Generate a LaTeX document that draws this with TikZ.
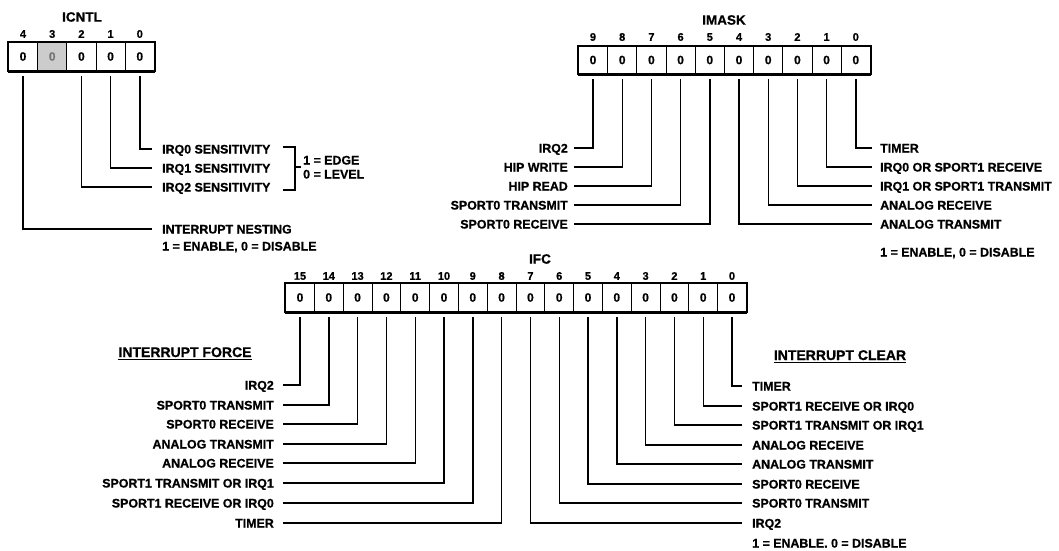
\documentclass[tikz,border=0pt]{standalone}
\usepackage{fontspec}
\setmainfont[BoldFeatures={FakeBold=0.8}]{Liberation Sans}
\begin{document}
\begin{tikzpicture}[x=1pt,y=-1pt,
  lbl/.style={font=\fontsize{12.4}{14}\selectfont\bfseries, inner sep=0pt, text height=9pt, text depth=0pt},
  hdr/.style={font=\fontsize{14}{16}\selectfont\bfseries, inner sep=0pt, text height=10pt, text depth=0pt},
  num/.style={font=\fontsize{11}{13}\selectfont\bfseries, inner sep=0pt},
  ttl/.style={font=\fontsize{13.5}{15}\selectfont\bfseries, inner sep=0pt},
  cellbox/.style={draw, line width=0.9pt, inner sep=0pt, minimum width=29.2pt, minimum height=29pt, font=\fontsize{12}{14}\selectfont\bfseries},
  cellsm/.style={cellbox, minimum width=28.8pt},
  conn/.style={draw, line width=1.4pt},
  frame/.style={draw, line width=1.7pt},
  shadow/.style={draw, line width=2.8pt}
]
\fill[white] (0,0) rectangle (1059,550);
\useasboundingbox (0,0) rectangle (1059,550);

% ---------------- ICNTL ----------------
\node[ttl] (icT) at (82,17) {ICNTL};
\node[cellbox] (ic4) at (23,56.5) {0};
\node[cellbox, fill=gray!40, text=black!55] (ic3) at (52.2,56.5) {0};
\node[cellbox] (ic2) at (81.4,56.5) {0};
\node[cellbox] (ic1) at (110.6,56.5) {0};
\node[cellbox] (ic0) at (139.8,56.5) {0};
\foreach \b/\x in {4/23,3/52.2,2/81.4,1/110.6,0/139.8}
  \node[num] (icn\b) at (\x,34) {\b};
\draw[frame] (ic4.north west) rectangle (ic0.south east);
\draw[shadow] (ic4.south west) -- (ic0.south east);

\node[lbl,anchor=west] (cl0) at (162,149) {IRQ0 SENSITIVITY};
\node[lbl,anchor=west] (cl1) at (162,168) {IRQ1 SENSITIVITY};
\node[lbl,anchor=west] (cl2) at (162,187) {IRQ2 SENSITIVITY};
\node[lbl,anchor=west] (cl4) at (162,229) {INTERRUPT NESTING};
\node[lbl,anchor=west] (clE) at (162,246) {1 = ENABLE, 0 = DISABLE};
\foreach \b in {0,1,2,4}
  \draw[conn] ([yshift=-5pt]ic\b.south) |- ([xshift=-10pt]cl\b.west);

% bracket
\draw[line width=1.4pt] (283,147) -- (295,147) -- (295,190) -- (283,190);
\draw[line width=1.4pt] (295,167) -- (301,167);
\node[lbl,anchor=west] (edge) at (303,160) {1 = EDGE};
\node[lbl,anchor=west] (level) at (303,174) {0 = LEVEL};

% ---------------- IMASK ----------------
\node[ttl] (imT) at (724,20) {IMASK};
\foreach \b in {9,...,0} {
  \node[cellbox, minimum height=28pt] (im\b) at ({593+(9-\b)*29.2},60) {0};
  \node[num] (imn\b) at ({593+(9-\b)*29.2},37) {\b};
}
\draw[frame] (im9.north west) rectangle (im0.south east);
\draw[shadow] (im9.south west) -- (im0.south east);

\foreach \b/\y/\t in {0/148/TIMER, 1/167/IRQ0 OR SPORT1 RECEIVE, 2/186/IRQ1 OR SPORT1 TRANSMIT, 3/205/ANALOG RECEIVE, 4/224/ANALOG TRANSMIT} {
  \node[lbl,anchor=west] (mr\b) at (880,\y) {\t};
  \draw[conn] ([yshift=-5pt]im\b.south) |- ([xshift=-8pt]mr\b.west);
}
\foreach \b/\y/\t in {9/148/IRQ2, 8/167/HIP WRITE, 7/186/HIP READ, 6/205/SPORT0 TRANSMIT, 5/224/SPORT0 RECEIVE} {
  \node[lbl,anchor=east] (ml\b) at (568,\y) {\t};
  \draw[conn] ([yshift=-5pt]im\b.south) |- ([xshift=6pt]ml\b.east);
}
\node[lbl,anchor=west] (mE) at (880,252) {1 = ENABLE, 0 = DISABLE};

% ---------------- IFC ----------------
\node[ttl] (ifT) at (540,259) {IFC};
\foreach \b in {15,...,0} {
  \node[cellsm] (if\b) at ({300+(15-\b)*28.8},297.5) {0};
  \node[num] (ifn\b) at ({300+(15-\b)*28.8},276) {\b};
}
\draw[frame] (if15.north west) rectangle (if0.south east);
\draw[shadow] (if15.south west) -- (if0.south east);

\node[hdr] (force) at (185,352) {INTERRUPT FORCE};
\draw[line width=1.5pt] ([yshift=-2.5pt]force.south west) -- ([yshift=-2.5pt]force.south east);
\node[hdr] (clear) at (840,355) {INTERRUPT CLEAR};
\draw[line width=1.5pt] ([yshift=-2.5pt]clear.south west) -- ([yshift=-2.5pt]clear.south east);

\foreach \b/\y/\t in {15/385/IRQ2, 14/405/SPORT0 TRANSMIT, 13/424/SPORT0 RECEIVE, 12/444/ANALOG TRANSMIT, 11/463/ANALOG RECEIVE, 10/483/SPORT1 TRANSMIT OR IRQ1, 9/503/SPORT1 RECEIVE OR IRQ0, 8/523/TIMER} {
  \node[lbl,anchor=east] (fl\b) at (274,\y) {\t};
  \draw[conn] ([yshift=-5pt]if\b.south) |- ([xshift=9pt]fl\b.east);
}
\foreach \b/\y/\t in {0/386/TIMER, 1/406/SPORT1 RECEIVE OR IRQ0, 2/425/SPORT1 TRANSMIT OR IRQ1, 3/445/ANALOG RECEIVE, 4/464/ANALOG TRANSMIT, 5/484/SPORT0 RECEIVE, 6/503/SPORT0 TRANSMIT, 7/523/IRQ2} {
  \node[lbl,anchor=west] (fr\b) at (752,\y) {\t};
  \draw[conn] ([yshift=-5pt]if\b.south) |- ([xshift=-10pt]fr\b.west);
}
\node[lbl,anchor=west] (fE) at (752,543) {1 = ENABLE. 0 = DISABLE};
\end{tikzpicture}
\end{document}
